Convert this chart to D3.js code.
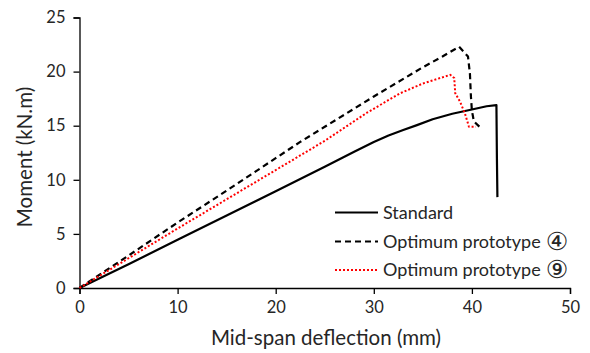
<!DOCTYPE html>
<html>
<head>
<meta charset="utf-8">
<script src="https://cdn.jsdelivr.net/npm/d3@7"></script>
<style>
  body { margin: 0; background: #fff; }
  svg { display: block; }
</style>
</head>
<body>
<div id="chart"></div>
<script>
const standardData = [
  [0, 0], [5, 2.2], [10, 4.45], [15, 6.7], [20, 8.95], [25, 11.2], [28, 12.6],
  [30, 13.5], [31.5, 14.1], [33, 14.6], [34.4, 15.05], [36, 15.6], [38, 16.1],
  [40, 16.5], [41.5, 16.8], [42.5, 16.9], [42.55, 12], [42.6, 8.4]
];
const proto4Data = [
  [0, 0], [5, 3.0], [10, 6.05], [15, 9.0], [20, 12.0], [22.5, 13.5], [25, 14.9],
  [30, 17.7], [35, 20.4], [37, 21.4], [38.7, 22.3], [39.6, 21.4], [39.8, 19.8],
  [39.9, 17.7], [40.0, 16.4], [40.2, 15.4], [41.0, 14.7]
];
const proto9Data = [
  [0, 0], [5, 2.75], [10, 5.5], [15, 8.2], [20, 10.9], [25, 13.6], [29.3, 16.2],
  [32.7, 18.0], [35, 18.9], [37.8, 19.7], [38.2, 19.4], [38.3, 18.0], [38.8, 17.2],
  [39.3, 16.1], [39.7, 14.9], [40.4, 14.9]
];
const xTicks = [0, 10, 20, 30, 40, 50];
const yTicks = [0, 5, 10, 15, 20, 25];
const seriesNames = ["Standard", "Optimum prototype", "Optimum prototype"];
const seriesMarks = ["", "\u2463", "\u2468"];

const w = 590, h = 353;
const margin = { top: 17.5, right: 20, bottom: 65, left: 79.5 };
const font = "Lato, 'Open Sans', sans-serif";

const svg = d3.select("#chart").append("svg")
  .attr("width", w)
  .attr("height", h);

const x = d3.scaleLinear().domain([0, 50]).range([margin.left, 570]);
const y = d3.scaleLinear().domain([0, 25]).range([288, margin.top]);

// axes
const xAxis = svg.append("g")
  .attr("transform", `translate(0,${y(0)})`)
  .call(d3.axisBottom(x).tickValues(xTicks).tickSize(6).tickPadding(7));
const yAxis = svg.append("g")
  .attr("transform", `translate(${x(0)},0)`)
  .call(d3.axisLeft(y).tickValues(yTicks).tickSize(6).tickPadding(8));

[xAxis, yAxis].forEach(g => {
  g.select(".domain").attr("stroke", "#000").attr("stroke-width", 1.3);
  g.selectAll(".tick line").attr("stroke", "#000").attr("stroke-width", 1.3);
  g.selectAll(".tick text")
    .attr("font-family", font)
    .attr("font-size", 16.5)
    .attr("fill", "#262626");
});

const line = d3.line()
  .x(d => x(d[0]))
  .y(d => y(d[1]));

const styles = [
  { data: standardData, stroke: "#000", dash: null, width: 2.2 },
  { data: proto4Data, stroke: "#000", dash: "6 4", width: 2.2 },
  { data: proto9Data, stroke: "#ff0000", dash: "2 2", width: 2 }
];

styles.forEach(s => {
  svg.append("path")
    .datum(s.data)
    .attr("fill", "none")
    .attr("stroke", s.stroke)
    .attr("stroke-width", s.width)
    .attr("stroke-dasharray", s.dash)
    .attr("stroke-linejoin", "round")
    .attr("d", line);
});

// legend
const legendY = [212.5, 241.5, 270];
styles.forEach((s, i) => {
  svg.append("line")
    .attr("x1", 335).attr("x2", 378)
    .attr("y1", legendY[i]).attr("y2", legendY[i])
    .attr("stroke", s.stroke)
    .attr("stroke-width", s.width)
    .attr("stroke-dasharray", s.dash);
  const t = svg.append("text")
    .attr("x", 383)
    .attr("y", legendY[i] + 6)
    .attr("font-family", font)
    .attr("font-size", 18)
    .attr("fill", "#262626")
    .text(seriesNames[i]);
  if (seriesMarks[i]) {
    t.append("tspan")
      .attr("dx", 5)
      .attr("dy", 2)
      .attr("font-family", "'DejaVu Sans', sans-serif")
      .attr("font-size", 25)
      .text(seriesMarks[i]);
  }
});

// labels
svg.append("text")
  .attr("transform", "rotate(-90)")
  .attr("x", -157)
  .attr("y", 32)
  .attr("text-anchor", "middle")
  .attr("font-family", font)
  .attr("font-size", 20.5)
  .attr("fill", "#262626")
  .text("Moment (kN.m)");

svg.append("text")
  .attr("x", 326)
  .attr("y", 345)
  .attr("text-anchor", "middle")
  .attr("font-family", font)
  .attr("font-size", 20.5)
  .attr("fill", "#262626")
  .text("Mid-span deflection (mm)");
</script>
</body>
</html>
